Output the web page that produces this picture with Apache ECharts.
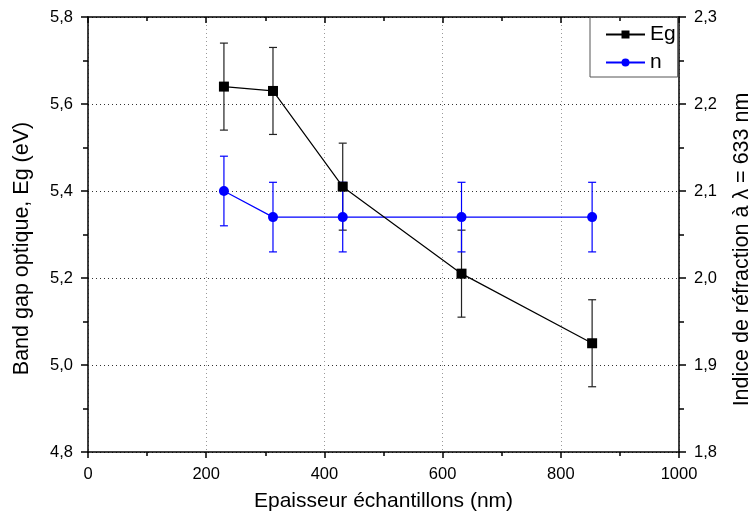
<!DOCTYPE html>
<html><head><meta charset="utf-8">
<script src="https://cdn.jsdelivr.net/npm/echarts@6/dist/echarts.min.js"></script>
<style>html,body{margin:0;padding:0;background:#fff}#c{width:748px;height:525px}</style>
</head><body><div id="c"></div>
<script>
const thickness = [230, 313, 431, 632, 853];
const egValues = [5.64, 5.63, 5.41, 5.21, 5.05];
const egErrors = [0.10, 0.10, 0.10, 0.10, 0.10];
const nValues = [2.10, 2.07, 2.07, 2.07, 2.07];
const nErrors = [0.04, 0.04, 0.04, 0.04, 0.04];

const FONT = 'Liberation Sans';
const fmt = v => v.toFixed(1).replace('.', ',');

function errData(vals, errs) {
  return thickness.map((x, i) => [x, vals[i] - errs[i], vals[i] + errs[i]]);
}
function errRender(color) {
  return function (params, api) {
    const x = api.value(0);
    const lo = api.coord([x, api.value(1)]);
    const hi = api.coord([x, api.value(2)]);
    const w = 4;
    const st = { stroke: color, lineWidth: 1.2 };
    return { type: 'group', children: [
      { type: 'line', shape: { x1: lo[0], y1: lo[1], x2: hi[0], y2: hi[1] }, style: st },
      { type: 'line', shape: { x1: lo[0] - w, y1: lo[1], x2: lo[0] + w, y2: lo[1] }, style: st },
      { type: 'line', shape: { x1: hi[0] - w, y1: hi[1], x2: hi[0] + w, y2: hi[1] }, style: st }
    ]};
  };
}

const chart = echarts.init(document.getElementById('c'));
const axisLine = { show: true, onZero: false, lineStyle: { color: '#000', width: 1.5 } };
chart.setOption({
  animation: false,
  textStyle: { fontFamily: FONT },
  grid: { left: 88, right: 69, top: 17, bottom: 73, containLabel: false, outerBoundsMode: 'none' },
  legend: {
    left: 590, top: 17, orient: 'vertical',
    borderColor: '#555', borderWidth: 1, padding: [7, 2, 4, 15],
    itemWidth: 39, itemHeight: 10, itemGap: 7,
    textStyle: { fontFamily: FONT, fontSize: 21, color: '#000' },
    data: ['Eg', 'n']
  },
  xAxis: [{
    type: 'value', min: 0, max: 1000, interval: 200,
    name: 'Epaisseur échantillons (nm)', nameLocation: 'middle', nameGap: 39,
    nameTextStyle: { fontFamily: FONT, fontSize: 21, color: '#000' },
    axisLine: axisLine,
    axisTick: { show: true, inside: false, length: 6, lineStyle: { color: '#000', width: 1.5 } },
    minorTick: { show: true, splitNumber: 2, length: 4, lineStyle: { color: '#000', width: 1.5 } },
    axisLabel: { fontFamily: FONT, fontSize: 16.5, color: '#000', margin: 14, formatter: v => String(v) },
    splitLine: { show: true, lineStyle: { color: '#999', type: [1, 3], width: 1 } }
  }, {
    type: 'value', min: 0, max: 1000, interval: 200, position: 'top',
    axisLine: axisLine,
    axisTick: { show: true, inside: true, length: 6, lineStyle: { color: '#000', width: 1.5 } },
    minorTick: { show: true, splitNumber: 2, length: 4, lineStyle: { color: '#000', width: 1.5 } },
    axisLabel: { show: false }, splitLine: { show: false }
  }],
  yAxis: [{
    type: 'value', min: 4.8, max: 5.8, interval: 0.2, position: 'left',
    name: 'Band gap optique, Eg (eV)', nameLocation: 'middle', nameGap: 55,
    nameTextStyle: { fontFamily: FONT, fontSize: 21.5, color: '#000', padding: [0, 28, 0, 0] },
    axisLine: axisLine,
    axisTick: { show: true, inside: false, length: 7, lineStyle: { color: '#000', width: 1.5 } },
    minorTick: { show: true, splitNumber: 2, length: 5, lineStyle: { color: '#000', width: 1.5 } },
    axisLabel: { fontFamily: FONT, fontSize: 16.5, color: '#000', margin: 15, formatter: fmt },
    splitLine: { show: true, lineStyle: { color: '#333', type: [1, 3], width: 1 } }
  }, {
    type: 'value', min: 1.8, max: 2.3, interval: 0.1, position: 'right',
    name: 'Indice de réfraction à λ = 633 nm', nameLocation: 'middle', nameGap: 52, nameRotate: 90,
    nameTextStyle: { fontFamily: FONT, fontSize: 21.5, color: '#000', padding: [0, 30, 0, 0] },
    axisLine: axisLine,
    axisTick: { show: true, inside: false, length: 7, lineStyle: { color: '#000', width: 1.5 } },
    minorTick: { show: true, splitNumber: 2, length: 5, lineStyle: { color: '#000', width: 1.5 } },
    axisLabel: { fontFamily: FONT, fontSize: 16.5, color: '#000', margin: 15, formatter: fmt },
    splitLine: { show: false }
  }],
  series: [
    {
      name: 'Eg', type: 'line', xAxisIndex: 0, yAxisIndex: 0,
      data: thickness.map((x, i) => [x, egValues[i]]),
      symbol: 'rect', symbolSize: 10, color: '#000',
      lineStyle: { color: '#000', width: 1.2 }, itemStyle: { color: '#000' }, z: 5
    },
    {
      name: 'n', type: 'line', xAxisIndex: 0, yAxisIndex: 1,
      data: thickness.map((x, i) => [x, nValues[i]]),
      symbol: 'circle', symbolSize: 10, color: '#0000ff',
      lineStyle: { color: '#0000ff', width: 1.2 }, itemStyle: { color: '#0000ff' }, z: 4
    },
    {
      type: 'custom', xAxisIndex: 0, yAxisIndex: 0, renderItem: errRender('#222'),
      data: errData(egValues, egErrors), encode: { x: 0, y: [1, 2] }, z: 3, silent: true
    },
    {
      type: 'custom', xAxisIndex: 0, yAxisIndex: 1, renderItem: errRender('#0000ff'),
      data: errData(nValues, nErrors), encode: { x: 0, y: [1, 2] }, z: 3, silent: true
    }
  ]
});
</script></body></html>
